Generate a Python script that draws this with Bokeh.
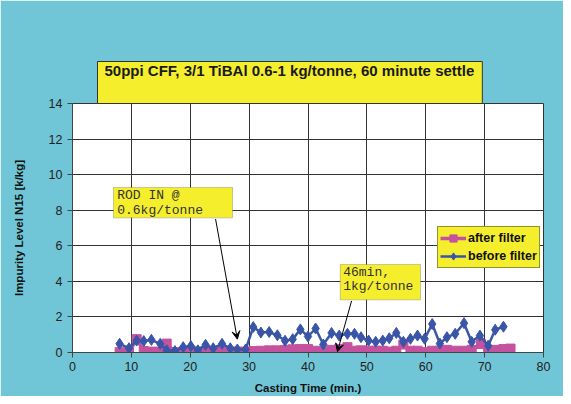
from bokeh.plotting import figure
from bokeh.models import (Range1d, SingleIntervalTicker, Label, Arrow, VeeHead,
                          BoxAnnotation, Legend, LegendItem, Title)
from bokeh.embed import file_html
from bokeh.resources import INLINE

# ---- data ----
title_text = "50ppi CFF, 3/1 TiBAl 0.6-1 kg/tonne, 60 minute settle"
x_label = "Casting Time (min.)"
y_label = "Impurity Level N15 [k/kg]"

before_x = [8.0, 9.6, 10.9, 12.1, 13.4, 14.9, 16.0, 17.4, 18.8, 20.1, 21.3, 22.6,
            23.9, 25.4, 26.8, 28.0, 29.4, 30.7, 32.0, 33.4, 34.8, 36.1, 37.4, 38.7,
            40.0, 41.3, 42.6, 44.0, 45.3, 46.7, 47.9, 49.0, 50.3, 51.5, 52.7, 53.8,
            55.0, 56.2, 57.4, 58.6, 59.8, 61.1, 62.4, 63.6, 65.0, 66.5, 67.8, 69.2,
            70.6, 71.8, 73.2]
before_y = [0.49, 0.24, 0.67, 0.64, 0.71, 0.49, 0.12, 0.08, 0.30, 0.36, 0.12, 0.43,
            0.24, 0.49, 0.24, 0.17, 0.17, 1.43, 1.12, 1.15, 0.97, 0.66, 0.75, 1.30,
            0.90, 1.35, 0.45, 1.10, 0.95, 1.05, 1.05, 0.86, 0.67, 0.60, 0.67, 0.80,
            1.10, 0.60, 0.77, 0.95, 0.77, 1.60, 0.50, 0.86, 1.05, 1.65, 0.60, 0.95,
            0.38, 1.28, 1.45]

after_x = [8.0, 9.6, 10.9, 12.1, 13.4, 14.9, 16.0, 17.4, 18.8, 20.1, 21.3, 22.6,
           23.9, 25.4, 26.8, 28.0, 29.4, 30.7, 32.0, 33.4, 34.8, 36.1, 37.4, 38.7,
           40.0, 41.3, 42.6, 44.0, 45.3, 46.7, 47.9, 49.0, 50.3, 51.5, 52.7, 53.8,
           55.0, 56.2, 57.4, 58.6, 59.8, 61.1, 62.4, 63.6, 65.0, 66.5, 67.8, 69.4,
           70.6, 71.8, 73.2, 74.4]
after_y = [0.02, 0.02, 0.75, 0.08, 0.05, 0.05, 0.50, 0.02, 0.05, 0.10, 0.05, 0.08,
           0.05, 0.08, 0.05, 0.05, 0.05, 0.08, 0.10, 0.12, 0.12, 0.15, 0.18, 0.20,
           0.20, 0.10, 0.05, 0.15, 0.20, 0.30, 0.10, 0.12, 0.10, 0.10, 0.10, 0.05,
           0.10, 0.45, 0.10, 0.10, 0.02, 0.10, 0.10, 0.15, 0.10, 0.10, 0.15, 0.48,
           0.05, 0.15, 0.20, 0.22]

note1_lines = ["ROD IN @", "0.6kg/tonne"]
note2_lines = ["46min,", "1kg/tonne"]

# ---- style ----
BG = "#70c6d6"
YEL = "#f5ee2c"
BLUE = "#3a55a8"
PINK = "#c4529e"
FONT = "Liberation Sans"
MONO = "Liberation Mono"

p = figure(width=563, height=396, output_backend="svg", toolbar_location=None,
           x_range=Range1d(0, 80), y_range=Range1d(0, 14))
p.min_border_left = 72
p.min_border_right = 20
p.min_border_top = 103
p.min_border_bottom = 44
p.border_fill_color = BG
p.background_fill_color = "white"
p.outline_line_color = "#333333"

# default title (closest to the frame) used as an invisible spacer
p.title.text = "_"
p.title.text_font_size = "1px"
p.title.text_color = BG
p.title.text_alpha = 0
p.title.standoff = 37

# title as a yellow box, stacked above the spacer
tbox = Title(text=title_text, align="left", offset=25, standoff=0,
             text_font=FONT, text_font_size="15px", text_font_style="bold",
             text_color="#1a1a1a", background_fill_color=YEL,
             border_line_color="#333333",
             padding=dict(left=7, right=8, top=0, bottom=25))
p.add_layout(tbox, "above")

p.xaxis.ticker = SingleIntervalTicker(interval=10)
p.yaxis.ticker = SingleIntervalTicker(interval=2)
for ax in (p.xaxis[0], p.yaxis[0]):
    ax.axis_line_color = "#444444"
    ax.major_tick_line_color = "#444444"
    ax.major_tick_in = 0
    ax.major_tick_out = 5
    ax.minor_tick_line_color = None
    ax.major_label_text_font = FONT
    ax.major_label_text_font_size = "12.5px"
    ax.major_label_text_color = "#222222"
    ax.axis_label_text_font = FONT
    ax.axis_label_text_font_size = "11.5px"
    ax.axis_label_text_font_style = "bold"
    ax.axis_label_text_color = "#111111"
p.xaxis.axis_label = x_label
p.yaxis.axis_label = y_label
p.xaxis.major_label_standoff = 4
p.yaxis.major_label_standoff = 5
p.xaxis.axis_label_standoff = 8
p.yaxis.axis_label_standoff = 21

p.grid.grid_line_color = "#333333"
p.grid.grid_line_alpha = 1.0

# series
la = p.line(after_x, after_y, line_color=PINK, line_width=3.5)
sa = p.scatter(after_x, after_y, marker="square", size=9, fill_color=PINK, line_color=PINK)
lb = p.line(before_x, before_y, line_color=BLUE, line_width=2.5)
sb = p.scatter(before_x, before_y, marker="diamond", size=11, fill_color=BLUE, line_color=BLUE)

legend = Legend(items=[LegendItem(label="after filter", renderers=[la, sa]),
                       LegendItem(label="before filter", renderers=[lb, sb])],
                location=(365, 84))
legend.background_fill_color = YEL
legend.background_fill_alpha = 1
legend.border_line_color = "#333333"
legend.label_text_font = FONT
legend.label_text_font_size = "12.5px"
legend.label_text_font_style = "bold"
legend.label_text_color = "#111111"
legend.padding = 2
legend.spacing = 0
legend.margin = 0
legend.label_height = 18
legend.glyph_height = 18
legend.glyph_width = 26
legend.label_standoff = 2
p.add_layout(legend)

# notes
p.add_layout(Arrow(x_start=24.3, y_start=7.5, x_end=28.0, y_end=0.75,
                   line_color="black", line_width=1,
                   end=VeeHead(size=8, fill_color="black", line_color="black")))
p.add_layout(Arrow(x_start=47.4, y_start=2.9, x_end=45.0, y_end=0.05,
                   line_color="black", line_width=1,
                   end=VeeHead(size=8, fill_color="black", line_color="black")))
p.add_layout(BoxAnnotation(left=6.96, right=27.18, bottom=7.57, top=9.28,
                           fill_color=YEL, fill_alpha=1, line_color="#555555", line_width=1))
for txt, yy in zip(note1_lines, [8.85, 7.99]):
    p.add_layout(Label(x=7.59, y=yy, text=txt, text_font=MONO, text_font_size="13px",
                       text_color="#333333", text_baseline="alphabetic"))
p.add_layout(BoxAnnotation(left=45.48, right=59.11, bottom=2.96, top=4.95,
                           fill_color=YEL, fill_alpha=1, line_color="#555555", line_width=1))
for txt, yy in zip(note2_lines, [4.50, 3.70]):
    p.add_layout(Label(x=45.98, y=yy, text=txt, text_font=MONO, text_font_size="13px",
                       text_color="#333333", text_baseline="alphabetic"))

open("out.html", "w").write(file_html(p, INLINE))
